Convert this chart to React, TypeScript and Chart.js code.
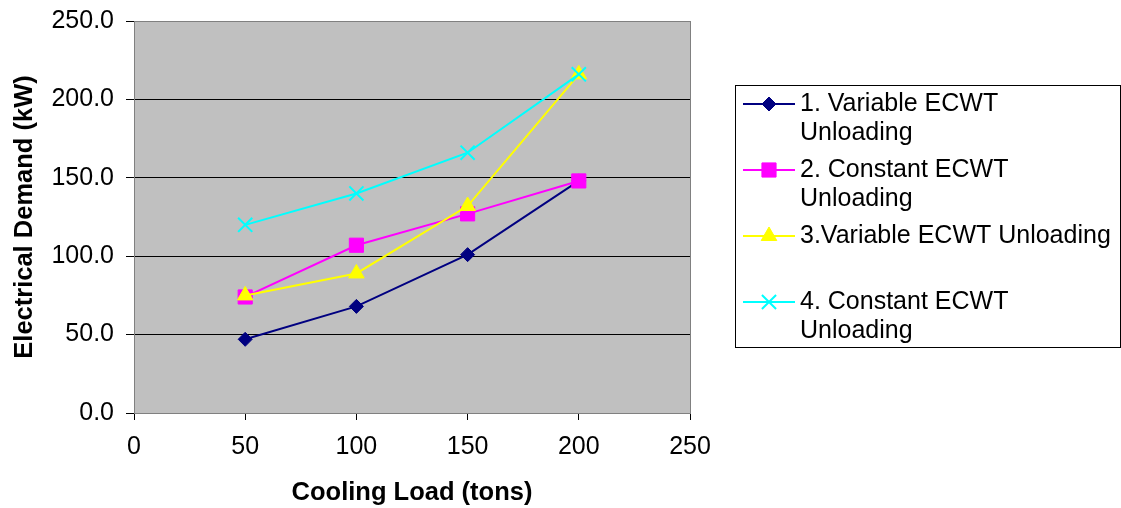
import React, { useEffect, useRef } from 'react';
import { Chart, registerables } from 'chart.js';
import { drawPoint } from 'chart.js/helpers';

Chart.register(...registerables);

const FONT = "'Liberation Sans', Arial, sans-serif";

const coolingLoads = [50, 100, 150, 200];
const variableEcwt1 = [47, 68, 101, 148];
const constantEcwt2 = [74, 107, 127, 148];
const variableEcwt3 = [75, 89, 132, 216];
const constantEcwt4 = [120, 140, 166, 216];

const seriesLabels = [
  '1. Variable ECWT Unloading',
  '2. Constant ECWT Unloading',
  '3.Variable ECWT Unloading',
  '4. Constant ECWT Unloading',
];
const legendLines = [
  ['1. Variable ECWT', 'Unloading'],
  ['2. Constant ECWT', 'Unloading'],
  ['3.Variable ECWT Unloading'],
  ['4. Constant ECWT', 'Unloading'],
];
const seriesColors = ['#000080', '#FF00FF', '#FFFF00', '#00FFFF'];
const seriesMarkers = ['rectRot', 'rect', 'triangle', 'crossRot'];
const markerRadius = [7, 10, 9, 10];
const markerBorder = [1, 1, 1, 2];

const xTitle = 'Cooling Load (tons)';
const yTitle = 'Electrical Demand (kW)';

const plotAreaPlugin = {
  id: 'plotArea',
  beforeDraw(chart: any) {
    const { ctx, chartArea: a } = chart;
    ctx.save();
    ctx.fillStyle = '#C0C0C0';
    ctx.fillRect(a.left, a.top, a.right - a.left, a.bottom - a.top);
    ctx.restore();
  },
  beforeDatasetsDraw(chart: any) {
    const { ctx, chartArea: a } = chart;
    ctx.save();
    ctx.strokeStyle = '#808080';
    ctx.lineWidth = 1;
    ctx.strokeRect(a.left + 0.5, a.top + 0.5, a.right - a.left, a.bottom - a.top);
    ctx.restore();
  },
};

const boxLegendPlugin = {
  id: 'boxLegend',
  afterDraw(chart: any) {
    const { ctx, chartArea: a } = chart;
    const left = a.right + 45;
    const top = 85;
    const w = 385;
    const h = 262;
    ctx.save();
    ctx.fillStyle = '#FFFFFF';
    ctx.fillRect(left, top, w, h);
    ctx.strokeStyle = '#000000';
    ctx.lineWidth = 1;
    ctx.strokeRect(left + 0.5, top + 0.5, w, h);
    chart.data.datasets.forEach((ds: any, i: number) => {
      const y = top + 19 + i * 66;
      ctx.strokeStyle = ds.borderColor;
      ctx.lineWidth = 2;
      ctx.beginPath();
      ctx.moveTo(left + 8, y);
      ctx.lineTo(left + 60, y);
      ctx.stroke();
      ctx.fillStyle = ds.pointBackgroundColor;
      ctx.strokeStyle = ds.pointBorderColor;
      ctx.lineWidth = ds.pointBorderWidth;
      drawPoint(ctx, {
        pointStyle: ds.pointStyle,
        radius: ds.pointRadius,
        rotation: 0,
        borderWidth: ds.pointBorderWidth,
      } as any, left + 34, y);
      ctx.fillStyle = '#000000';
      ctx.font = `25px ${FONT}`;
      ctx.textBaseline = 'middle';
      ctx.textAlign = 'left';
      legendLines[i].forEach((line, j) => {
        ctx.fillText(line, left + 65, y + j * 29);
      });
    });
    ctx.restore();
  },
};

export default function App() {
  const canvasRef = useRef<HTMLCanvasElement | null>(null);

  useEffect(() => {
    const canvas = canvasRef.current;
    if (!canvas) return;
    const seriesValues = [variableEcwt1, constantEcwt2, variableEcwt3, constantEcwt4];
    const chart = new Chart(canvas, {
      type: 'line',
      data: {
        datasets: seriesValues.map((vals, i) => ({
          label: seriesLabels[i],
          data: coolingLoads.map((x, k) => ({ x, y: vals[k] })),
          borderColor: seriesColors[i],
          backgroundColor: seriesColors[i],
          borderWidth: 2,
          pointStyle: seriesMarkers[i],
          pointRadius: markerRadius[i],
          pointBackgroundColor: seriesColors[i],
          pointBorderColor: seriesColors[i],
          pointBorderWidth: markerBorder[i],
          tension: 0,
          fill: false,
          order: 4 - i,
        })),
      },
      options: {
        animation: false,
        responsive: false,
        maintainAspectRatio: false,
        layout: { padding: { top: 21, right: 431, bottom: 0, left: 0 } },
        plugins: {
          legend: { display: false },
          tooltip: { enabled: false },
        },
        scales: {
          x: {
            type: 'linear',
            min: 0,
            max: 250,
            ticks: {
              stepSize: 50,
              color: '#000',
              font: { size: 25, family: FONT },
              padding: 12,
              maxRotation: 0,
            },
            grid: { drawOnChartArea: false, drawTicks: true, tickLength: 7, color: '#000' },
            border: { display: false },
            title: {
              display: true,
              text: xTitle,
              color: '#000',
              font: { size: 25.5, weight: 'bold', family: FONT },
              padding: { top: 0, bottom: 0 },
            },
            afterFit(scale: any) {
              scale.height = 95;
            },
          },
          y: {
            type: 'linear',
            min: 0,
            max: 250,
            ticks: {
              stepSize: 50,
              color: '#000',
              font: { size: 25, family: FONT },
              padding: 12,
              callback: (v: any) => Number(v).toFixed(1),
            },
            grid: { color: '#000', tickLength: 8, drawTicks: true },
            border: { display: false },
            title: {
              display: true,
              text: yTitle,
              color: '#000',
              font: { size: 25.5, weight: 'bold', family: FONT },
              padding: { top: 10, bottom: 0 },
            },
            afterFit(scale: any) {
              scale.width = 134;
              scale.paddingTop = 0;
              scale.paddingBottom = 0;
            },
          },
        },
      } as any,
      plugins: [plotAreaPlugin, boxLegendPlugin],
    });
    return () => chart.destroy();
  }, []);

  return (
    <div style={{ position: 'absolute', left: 0, top: 0, width: 1121, height: 508, background: '#fff' }}>
      <canvas ref={canvasRef} width={1121} height={508} style={{ display: 'block' }} />
    </div>
  );
}
